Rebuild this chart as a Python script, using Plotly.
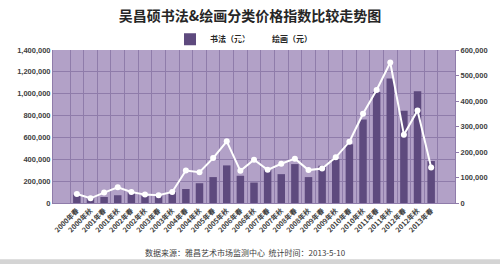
import plotly.graph_objects as go

categories = []
for yr in range(2000, 2013):
    categories += [f"{yr}年春", f"{yr}年秋"]
categories.append("2013年春")

calligraphy = [76000, 49000, 55000, 71000, 95000, 64000, 71000, 101000, 128000, 181000,
               237000, 344000, 249000, 187000, 304000, 264000, 356000, 237000, 341000,
               402000, 537000, 764000, 1016000, 1139000, 844000, 1022000, 384000]
painting = [35500, 18400, 40800, 61800, 43400, 32900, 30300, 43400, 127600, 121000,
            176000, 242000, 126000, 170000, 130000, 154000, 174000, 129000, 135000,
            179000, 240000, 350000, 443000, 551000, 268000, 363000, 139000]

left_ticks = [0, 200000, 400000, 600000, 800000, 1000000, 1200000, 1400000]
right_ticks = [0, 100000, 200000, 300000, 400000, 500000, 600000]

FONT = "Liberation Sans, Noto Sans CJK SC"
CJK = "Noto Sans CJK SC"
TXT = "#404040"

fig = go.Figure()
fig.add_trace(go.Bar(x=categories, y=calligraphy, name="书法（元）",
                     marker=dict(color="#5E4A7E", line=dict(width=0)), yaxis="y",
                     legend="legend", showlegend=True))
fig.add_trace(go.Scatter(x=categories, y=painting, name="绘画（元）", yaxis="y2",
                         mode="lines+markers",
                         line=dict(color="white", width=2),
                         marker=dict(color="white", size=6), legend="legend2",
                         showlegend=True))

leg_font = dict(family=CJK, size=8, color="#262626", weight="bold")

fig.update_layout(
    width=500, height=264,
    margin=dict(l=53, r=45, t=50, b=61),
    paper_bgcolor="white",
    plot_bgcolor="#B2A1C7",
    bargap=0.45,
    showlegend=True,
    font=dict(family=FONT, size=7, color=TXT, weight="bold"),
    title=dict(text="吴昌硕书法&绘画分类价格指数比较走势图",
               font=dict(family=CJK, size=14, color="#262626", weight="bold"),
               x=0.5, xanchor="center", y=1 - 16 / 264, yanchor="middle"),
    legend=dict(orientation="h", x=(170 - 53) / 402, y=1.07, xanchor="left", yanchor="middle",
                font=leg_font, bgcolor="rgba(0,0,0,0)", itemwidth=30, visible=True),
    legend2=dict(orientation="h", x=(232 - 53) / 402, y=1.07, xanchor="left", yanchor="middle",
                 font=leg_font, bgcolor="rgba(0,0,0,0)", itemwidth=30, visible=True),
    xaxis=dict(type="category", tickangle=-45, tickson="boundaries",
               showgrid=True, gridcolor="#8F7CAA", gridwidth=1,
               ticks="", showline=True, linecolor="#8F7CAA",
               tickfont=dict(family=CJK, size=7, color=TXT, weight="bold")),
    yaxis=dict(range=[0, 1400000], tickvals=left_ticks, tickformat=",",
               showgrid=True, gridcolor="#8F7CAA", gridwidth=1,
               showline=True, linecolor="#8F7CAA", zeroline=False,
               ticks="", tickfont=dict(size=7.5, color=TXT, weight="bold")),
    yaxis2=dict(range=[0, 600000], tickvals=right_ticks, tickformat=",",
                overlaying="y", side="right", showgrid=False, zeroline=False,
                showline=True, linecolor="#8F7CAA",
                ticks="outside", ticklen=3, tickcolor="#8F7CAA",
                tickfont=dict(size=7.5, color=TXT, weight="bold")),
    annotations=[dict(text="数据来源：雅昌艺术市场监测中心  统计时间：2013-5-10",
                      xref="paper", yref="paper", x=0.48, y=(203 - 252) / 152,
                      xanchor="center", yanchor="middle", showarrow=False,
                      font=dict(family=CJK, size=8, color="#404040", weight="normal"))],
    shapes=[dict(type="rect", xref="paper", yref="paper",
                 x0=-53 / 402, x1=447 / 402, y0=(203 - 259) / 152, y1=(203 - 270) / 152,
                 fillcolor="#D4D4D4", line=dict(width=0), layer="below")],
)

fig.write_html("out.html")
